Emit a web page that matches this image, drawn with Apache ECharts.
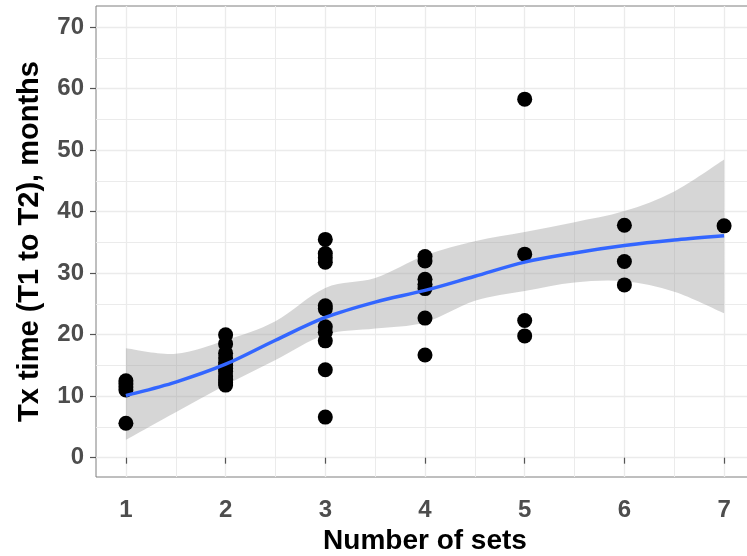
<!DOCTYPE html>
<html><head><meta charset="utf-8">
<script src="https://cdn.jsdelivr.net/npm/echarts@6/dist/echarts.min.js"></script>
<style>html,body{margin:0;padding:0;background:#fff}#c{width:747px;height:556px}</style>
</head><body><div id="c"></div>
<script>
const xTicks = [1, 2, 3, 4, 5, 6, 7];
const yTicks = [0, 10, 20, 30, 40, 50, 60, 70];
const xTitle = 'Number of sets';
const yTitle = 'Tx time (T1 to T2), months';

// observed points: number of sets (x) and months (y)
const pointX = [1,1,1,1,1,
  2,2,2,2,2,2,2,2,2,2,2,2,
  3,3,3,3,3,3,3,3,3,3,3,
  4,4,4,4,4,4,4,
  5,5,5,5,
  6,6,6,
  7];
const pointY = [12.5,12.0,11.5,11.0,5.6,
  20.0,18.5,17.0,16.2,15.5,15.0,14.5,14.0,13.3,12.7,12.2,11.8,
  35.5,33.2,32.5,31.8,24.7,24.2,21.3,20.4,19.0,14.3,6.6,
  32.7,32.0,29.0,28.2,27.5,22.7,16.7,
  58.3,33.1,22.3,19.8,
  37.8,31.9,28.1,
  37.7];

// smoothed fit and confidence band
const fitX = [1, 1.5, 2, 2.5, 3, 3.5, 4, 4.5, 5, 5.5, 6, 6.5, 7];
const fitY = [10.1, 12.3, 15.2, 19.1, 22.8, 25.3, 27.2, 29.5, 31.8, 33.3, 34.5, 35.4, 36.1];
const bandLower = [2.9, 7.4, 11.8, 15.9, 20.0, 21.0, 22.0, 25.5, 27.1, 28.5, 28.7, 27.0, 23.5];
const bandUpper = [17.8, 16.9, 19.1, 22.2, 27.6, 29.2, 32.9, 35.2, 36.7, 38.3, 40.1, 43.3, 48.5];

const chart = echarts.init(document.getElementById('c'));
const pts = pointX.map((x, i) => [x, pointY[i]]);
const fontFam = '"Liberation Sans", Arial, sans-serif';

// Catmull-Rom spline through pixel points, as cubic bezier path commands
function splineCmds(p) {
  let s = '';
  for (let i = 0; i < p.length - 1; i++) {
    const p0 = p[Math.max(i - 1, 0)], p1 = p[i], p2 = p[i + 1], p3 = p[Math.min(i + 2, p.length - 1)];
    const c1 = [p1[0] + (p2[0] - p0[0]) / 6, p1[1] + (p2[1] - p0[1]) / 6];
    const c2 = [p2[0] - (p3[0] - p1[0]) / 6, p2[1] - (p3[1] - p1[1]) / 6];
    s += ' C' + c1[0] + ' ' + c1[1] + ' ' + c2[0] + ' ' + c2[1] + ' ' + p2[0] + ' ' + p2[1];
  }
  return s;
}

function renderBand(params, api) {
  if (params.dataIndex !== 0) return null;
  const up = fitX.map((x, i) => api.coord([x, bandUpper[i]]));
  const lo = fitX.map((x, i) => api.coord([x, bandLower[i]])).reverse();
  const d = 'M' + up[0][0] + ' ' + up[0][1] + splineCmds(up) +
            ' L' + lo[0][0] + ' ' + lo[0][1] + splineCmds(lo) + ' Z';
  return {
    type: 'path',
    shape: { pathData: d },
    style: { fill: 'rgba(153,153,153,0.4)', stroke: null }
  };
}

function renderFit(params, api) {
  if (params.dataIndex !== 0) return null;
  const p = fitX.map((x, i) => api.coord([x, fitY[i]]));
  const d = 'M' + p[0][0] + ' ' + p[0][1] + splineCmds(p);
  return {
    type: 'path',
    shape: { pathData: d },
    style: { fill: null, stroke: '#3366FF', lineWidth: 3.5, lineCap: 'butt' }
  };
}

chart.setOption({
  backgroundColor: '#ffffff',
  animation: false,
  grid: { left: 96, top: 6, width: 658, height: 471, outerBoundsMode: 'none', containLabel: false,
          show: true, borderColor: '#7f7f7f', borderWidth: 1, backgroundColor: 'transparent' },
  xAxis: {
    type: 'value', min: 0.7, max: 7.3, minInterval: 1, maxInterval: 1,
    name: xTitle, nameLocation: 'middle', nameGap: 47,
    nameTextStyle: { fontFamily: fontFam, fontWeight: 'bold', fontSize: 28, color: '#000' },
    axisLine: { show: false },
    axisTick: { show: true, length: 6, lineStyle: { color: '#555', width: 1.2 }, customValues: xTicks },
    axisLabel: { customValues: xTicks, margin: 21, fontFamily: fontFam, fontWeight: 'bold', fontSize: 24, color: '#4d4d4d' },
    splitLine: { show: true, lineStyle: { color: '#ebebeb', width: 1.3 } },
    minorTick: { show: false, splitNumber: 2 },
    minorSplitLine: { show: true, lineStyle: { color: '#ebebeb', width: 1 } }
  },
  yAxis: {
    type: 'value', min: -3.14, max: 73.45, minInterval: 10, maxInterval: 10,
    name: yTitle, nameLocation: 'middle', nameGap: 52, nameRotate: 90,
    nameTextStyle: { fontFamily: fontFam, fontWeight: 'bold', fontSize: 29, color: '#000' },
    axisLine: { show: false },
    axisTick: { show: true, length: 6, lineStyle: { color: '#555', width: 1.2 }, customValues: yTicks },
    axisLabel: { customValues: yTicks, margin: 12, fontFamily: fontFam, fontWeight: 'bold', fontSize: 24, color: '#4d4d4d' },
    splitLine: { show: true, lineStyle: { color: '#ebebeb', width: 1.3 } },
    minorTick: { show: false, splitNumber: 2 },
    minorSplitLine: { show: true, lineStyle: { color: '#ebebeb', width: 1 } }
  },
  series: [
    { type: 'custom', renderItem: renderBand, data: [0], silent: true, clip: false, z: 1 },
    { type: 'scatter', data: pts, symbol: 'circle', symbolSize: 15, itemStyle: { color: '#000', opacity: 1 }, z: 3 },
    { type: 'custom', renderItem: renderFit, data: [0], silent: true, clip: false, z: 4 }
  ]
});
</script></body></html>
